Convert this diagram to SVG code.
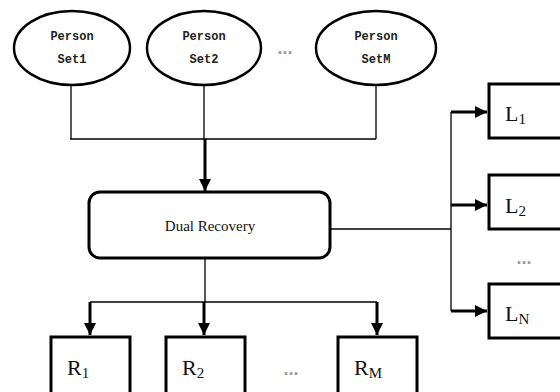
<svg xmlns="http://www.w3.org/2000/svg" width="560" height="392" viewBox="0 0 560 392">
<style>
.ell{fill:#fff;stroke:#000;stroke-width:2.5}
.box{fill:#fff;stroke:#000;stroke-width:3}
.ln{fill:none;stroke:#000;stroke-width:1.3}
.th{fill:none;stroke:#000;stroke-width:3}
.pt{font-family:"Liberation Mono",monospace;font-size:12px;font-weight:bold;text-anchor:middle;fill:#222}
.dr{font-family:"Liberation Serif",serif;font-size:15px;text-anchor:middle;fill:#111}
.lb{font-family:"Liberation Serif",serif;font-size:22px;fill:#111}
.sb{font-size:15px}
.dots{font-family:"Liberation Sans",sans-serif;font-size:18px;font-weight:bold;fill:#999;text-anchor:middle}
</style>
<defs>
<marker id="ah" viewBox="0 0 10 10" refX="10" refY="5" markerWidth="4" markerHeight="4" markerUnits="strokeWidth" orient="auto">
<path d="M0,0 L10,5 L0,10 z" fill="#000"/>
</marker>
</defs>
<rect width="560" height="392" fill="#fff"/>
<g id="connectors">
<path class="ln" d="M71,86 V139 M204,86 V139 M376,86 V139 M70,139 H376"/>
<path class="th" d="M205,139 V191" marker-end="url(#ah)"/>
<path class="ln" d="M330,229 H451 M451,112 V311"/>
<path class="th" d="M451,112 H487" marker-end="url(#ah)"/>
<path class="th" d="M451,205 H487" marker-end="url(#ah)"/>
<path class="th" d="M451,311 H487" marker-end="url(#ah)"/>
<path class="ln" d="M205,258 V302 M90,302 H377"/>
<path class="th" d="M90,302 V335" marker-end="url(#ah)"/>
<path class="th" d="M204,302 V335" marker-end="url(#ah)"/>
<path class="th" d="M377,302 V335" marker-end="url(#ah)"/>
</g>
<g id="ps1"><ellipse class="ell" cx="72" cy="48" rx="58" ry="37"/><text class="pt" x="72" y="40">Person</text><text class="pt" x="72" y="63">Set1</text></g>
<g id="ps2"><ellipse class="ell" cx="204" cy="48" rx="57" ry="37"/><text class="pt" x="204" y="40">Person</text><text class="pt" x="204" y="63">Set2</text></g>
<text class="dots" x="285" y="54">...</text>
<g id="psm"><ellipse class="ell" cx="376" cy="48" rx="60" ry="37"/><text class="pt" x="376" y="40">Person</text><text class="pt" x="376" y="63">SetM</text></g>
<g id="dual"><rect class="box" x="89" y="192" width="241" height="66" rx="11"/><text class="dr" x="210" y="231">Dual Recovery</text></g>
<g id="L1"><rect class="box" x="489" y="84" width="80" height="54"/><text class="lb" x="505" y="121">L<tspan class="sb" dy="3">1</tspan></text></g>
<g id="L2"><rect class="box" x="489" y="175" width="80" height="54"/><text class="lb" x="505" y="213">L<tspan class="sb" dy="3">2</tspan></text></g>
<text class="dots" x="524" y="264">...</text>
<g id="LN"><rect class="box" x="489" y="284" width="80" height="54"/><text class="lb" x="505" y="321">L<tspan class="sb" dy="3">N</tspan></text></g>
<g id="R1"><rect class="box" x="51" y="337" width="79" height="60"/><text class="lb" x="67" y="375">R<tspan class="sb" dy="3">1</tspan></text></g>
<g id="R2"><rect class="box" x="166" y="337" width="79" height="60"/><text class="lb" x="182" y="375">R<tspan class="sb" dy="3">2</tspan></text></g>
<text class="dots" x="291" y="375">...</text>
<g id="RM"><rect class="box" x="338" y="337" width="79" height="60"/><text class="lb" x="354" y="375">R<tspan class="sb" dy="3">M</tspan></text></g>
</svg>
